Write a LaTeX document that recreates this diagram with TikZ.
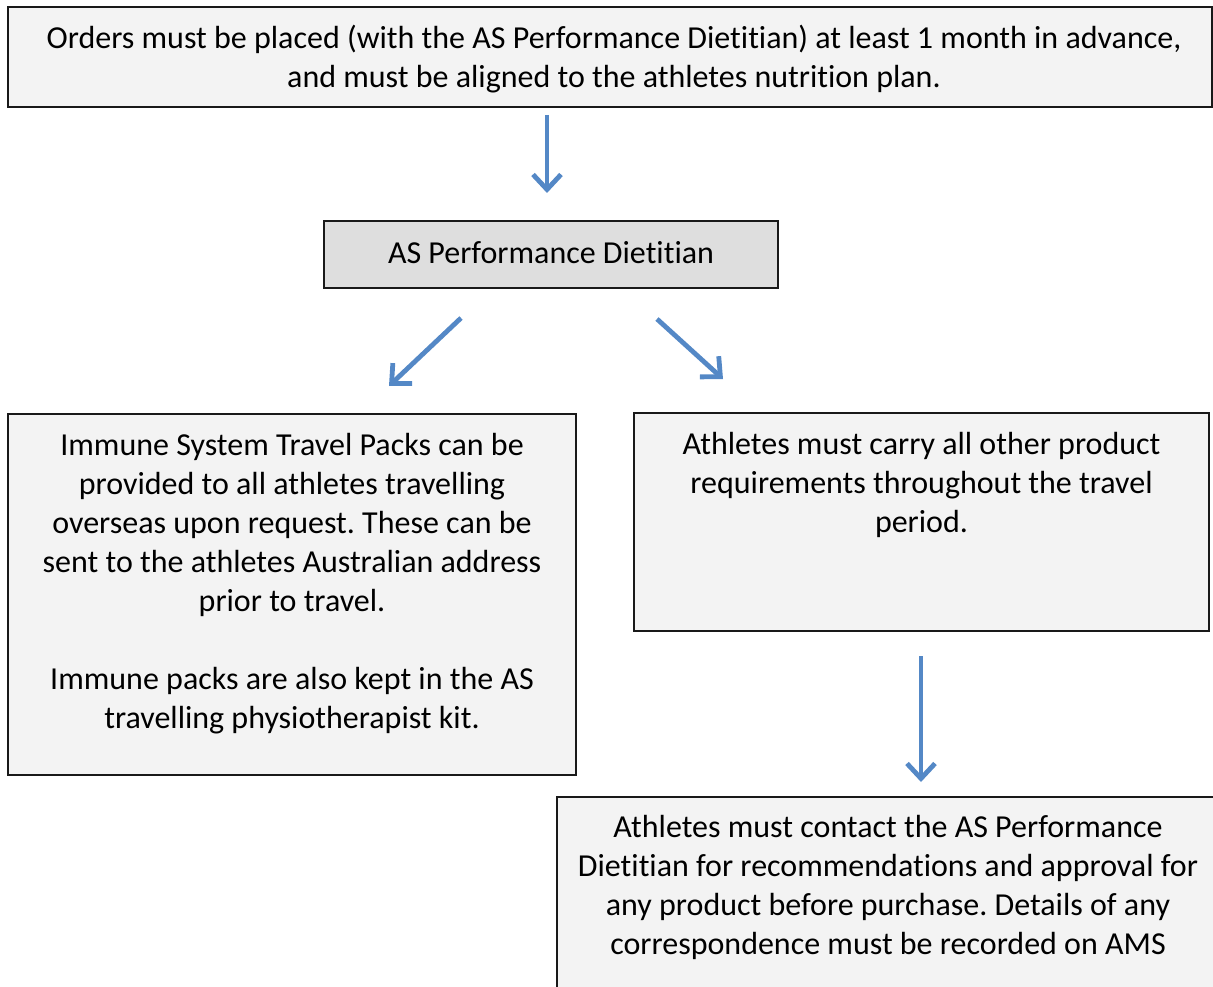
\documentclass[tikz,border=0pt]{standalone}
\usepackage{fontspec}
\setmainfont{Carlito}[Ligatures=CommonOff]
\usetikzlibrary{arrows.meta,positioning}
\frenchspacing

\definecolor{flowblue}{RGB}{84,136,198}
\definecolor{panelgray}{RGB}{243,243,243}
\definecolor{headgray}{RGB}{222,222,222}

\tikzset{
    panel/.style={rectangle,draw=black!90,line width=1.6pt,fill=panelgray,inner sep=0pt},
    note/.style={align=center,inner sep=0pt,font=\fontsize{32}{39}\selectfont},
    flow/.style={draw=flowblue,line width=4.8pt,-{Straight Barb[length=15pt,width=28pt]}}
}

\begin{document}
\begin{tikzpicture}[x=1pt,y=-1pt]
        \useasboundingbox (0,0) rectangle (1213,987);
        \clip (0,0) rectangle (1213,987);

        \node[panel,minimum width=1204pt,minimum height=100pt] (orders) at (610,57) {};
        \node[panel,minimum width=454pt,minimum height=67pt,fill=headgray] (dietitian) at (551,254.5) {};
        \node[panel,minimum width=568pt,minimum height=361pt] (packs) at (292,594.5) {};
        \node[panel,minimum width=575pt,minimum height=218pt] (carry) at (921.5,522) {};
        \node[panel,minimum width=662pt,minimum height=240pt] (contact) at (888,917) {};

        \node[note,anchor=north] (orders text) at ([xshift=4pt,yshift=-19pt]orders.north)
            {Orders must be placed (with the AS Performance Dietitian) at least 1 month in advance,\\
             and must be aligned to the athletes nutrition plan.};
        \node[note] (dietitian text) at ([yshift=2pt]dietitian.center) {AS Performance Dietitian};
        \node[note,anchor=north] (packs text) at ([yshift=-20pt]packs.north)
            {Immune System Travel Packs can be\\
             provided to all athletes travelling\\
             overseas upon request. These can be\\
             sent to the athletes Australian address\\
             prior to travel.\\[39pt]
             Immune packs are also kept in the AS\\
             travelling physiotherapist kit.};
        \node[note,anchor=north] (carry text) at ([yshift=-20pt]carry.north)
            {Athletes must carry all other product\\
             requirements throughout the travel\\
             period.};
        \node[note,anchor=north] (contact text) at ([yshift=-19pt]contact.north)
            {Athletes must contact the AS Performance\\
             Dietitian for recommendations and approval for\\
             any product before purchase. Details of any\\
             correspondence must be recorded on AMS};

        \coordinate (a1 from) at (547,115);
        \coordinate (a1 to) at (547,193);
        \coordinate (a2 from) at (461,318);
        \coordinate (a2 to) at (389,386);
        \coordinate (a3 from) at (657,319);
        \coordinate (a3 to) at (723,379);
        \coordinate (a4 from) at (921,656);
        \coordinate (a4 to) at (921,782);

        \draw[flow] (a1 from) -- (a1 to);
        \draw[flow] (a2 from) -- (a2 to);
        \draw[flow] (a3 from) -- (a3 to);
        \draw[flow] (a4 from) -- (a4 to);

\end{tikzpicture}
\end{document}
